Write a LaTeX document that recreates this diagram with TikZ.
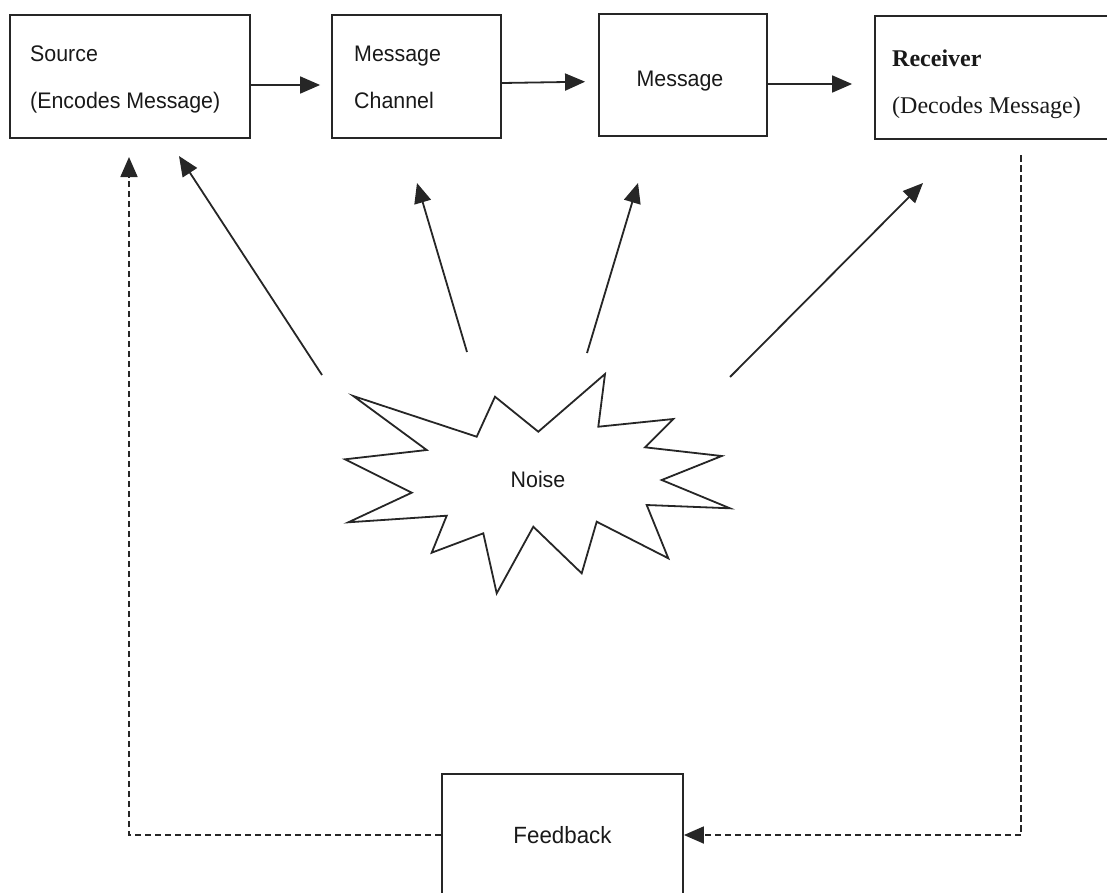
\documentclass[tikz,border=0pt]{standalone}
\usepackage{fontspec}
\setmainfont{Liberation Sans}[FakeStretch=0.95]
\newfontfamily\serifface{Liberation Serif}
\usetikzlibrary{arrows.meta,calc}
\begin{document}
\begin{tikzpicture}[x=1pt,y=-1pt,
  box/.style={draw=black!85, line width=1.8pt, rectangle, inner sep=0pt},
  lbl/.style={inner sep=0pt, font=\fontsize{22.5}{26}\selectfont, text=black!90},
  slbl/.style={inner sep=0pt, font=\serifface\fontsize{24}{28}\selectfont, text=black!90},
  tip/.style={-{Triangle[length=20pt,width=17pt]}},
  conn/.style={draw=black!85, line width=1.8pt, tip},
  fbline/.style={draw=black!85, line width=1.8pt, dash pattern=on 6.5pt off 3.5pt, tip},
]
\useasboundingbox (0,0) rectangle (1107,892);
\clip (0,0) rectangle (1107,892);

% top row of boxes
\node[box, minimum width=240pt, minimum height=123pt] (src) at (130,76.5) {};
\node[box, minimum width=169pt, minimum height=123pt] (chan) at (416.5,76.5) {};
\node[box, minimum width=168pt, minimum height=122pt] (msg) at (683,75) {};
\node[box, minimum width=245pt, minimum height=123pt] (recv) at (997.5,77.5) {};

% box labels
\node[lbl, anchor=base west] (srcA) at (30,61) {Source};
\node[lbl, anchor=base west] (srcB) at (30,108) {(Encodes Message)};
\node[lbl, anchor=base west] (chanA) at (354,61) {Message};
\node[lbl, anchor=base west] (chanB) at (354,108) {Channel};
\node[lbl, anchor=base] (msgA) at (680,86) {Message};
\node[slbl, anchor=base west, font=\serifface\bfseries\fontsize{24}{28}\selectfont] (recvA) at (892,66) {Receiver};
\node[slbl, anchor=base west] (recvB) at (892,113) {(Decodes Message)};

% feedback box (runs off the lower edge)
\node[box, lbl, minimum width=241pt, minimum height=122pt, font=\fontsize{23.5}{26}\selectfont] (fb) at (562.5,835) {Feedback};

% forward flow
\draw[conn, shorten >=11pt] ([yshift=-8.5pt]src.east) -- ([yshift=-8.5pt]chan.west);
\draw[conn, shorten >=13pt] ([yshift=-6.5pt]chan.east) -- ([yshift=-6.5pt]msg.west);
\draw[conn, shorten >=22pt] ([yshift=-9pt]msg.east) -- ([yshift=-9pt]msg.east -| recv.west);

% noise burst
\draw[draw=black!85, line width=1.8pt, line join=miter, fill=white]
  (353.3,396) -- (476.7,436.7) -- (495,396.7) -- (538.3,431.7) -- (605,374)
  -- (598.3,426.7) -- (673.3,419) -- (645,447.3) -- (721.7,456) -- (661.7,480)
  -- (730,508.3) -- (646.7,505) -- (668.3,558.3) -- (596.7,521.7) -- (581.7,573.3)
  -- (533.3,526.7) -- (496.7,593.3) -- (483.3,533.3) -- (431.7,552.7) -- (446.7,515.7)
  -- (348.3,522.3) -- (411.7,492.7) -- (345,459.3) -- (426.7,450) -- cycle;
\node[lbl] (noise) at (538,479) {Noise};

% noise arrows
\coordinate (t1) at (322,375); \coordinate (h1) at (179,156);
\coordinate (t2) at (467,352); \coordinate (h2) at (417,183);
\coordinate (t3) at (587,353); \coordinate (h3) at (638,183);
\coordinate (t4) at (730,377); \coordinate (h4) at (923,183);
\draw[conn] (t1) -- (h1);
\draw[conn] (t2) -- (h2);
\draw[conn] (t3) -- (h3);
\draw[conn] (t4) -- (h4);

% feedback loop
\coordinate (rv) at (1021,155);
\coordinate (sv) at (129,157);
\draw[fbline] (rv) -- (rv |- fb.east) -- (fb.east);
\draw[fbline] (fb.west) -- (fb.west -| sv) -- (sv);
\end{tikzpicture}
\end{document}
